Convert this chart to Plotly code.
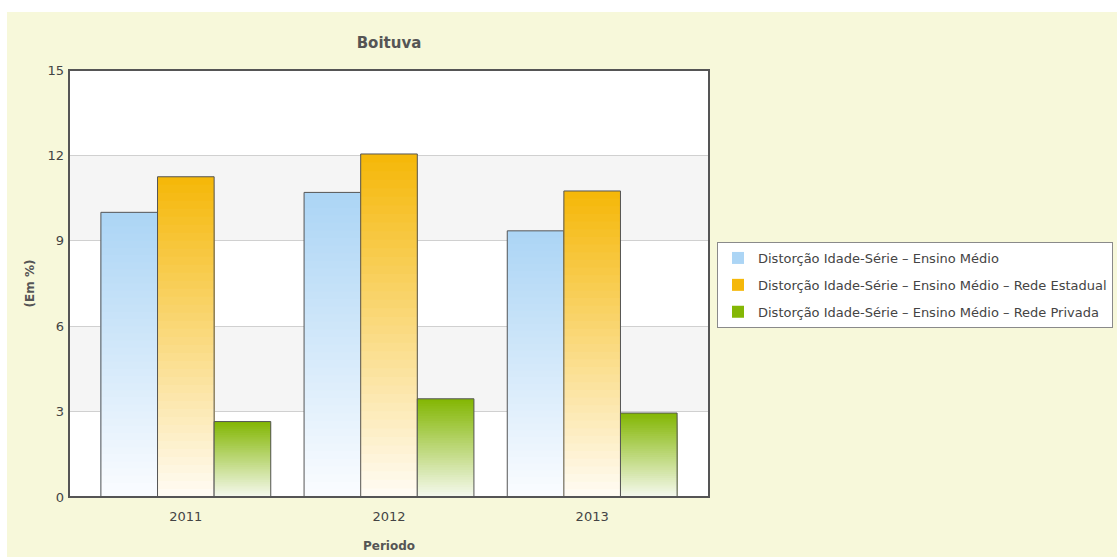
import plotly.graph_objects as go

periodos = ["2011", "2012", "2013"]
serie_nomes = [
    "Distorção Idade-Série – Ensino Médio",
    "Distorção Idade-Série – Ensino Médio – Rede Estadual",
    "Distorção Idade-Série – Ensino Médio – Rede Privada",
]
ensino_medio = [10.0, 10.7, 9.35]
rede_estadual = [11.25, 12.05, 10.75]
rede_privada = [2.65, 3.45, 2.95]
y_ticks = [0, 3, 6, 9, 12, 15]

# cor do topo / cor da base do degradê de cada série
cores = [
    ((172, 213, 245), (250, 252, 255)),
    ((245, 184, 10), (255, 251, 242)),
    ((132, 183, 5), (244, 248, 236)),
]

W, H = 1117, 557
L, R, T, B = 69, 408, 70, 60
PW, PH = W - L - R, H - T - B
N = 40


def mix(c1, c2, t):
    return "rgb(%d,%d,%d)" % tuple(round(a + (b - a) * t) for a, b in zip(c1, c2))


fig = go.Figure()
series = [ensino_medio, rede_estadual, rede_privada]
for k, vals in enumerate(series):
    topo, base = cores[k]
    # barras aninhadas: a mais alta primeiro, as menores por cima -> degradê sem emendas
    for j in range(N - 1, -1, -1):
        t = j / (N - 1)
        fig.add_trace(go.Bar(
            x=periodos,
            y=[v * (j + 1) / N for v in vals],
            offsetgroup=str(k),
            legendgroup=str(k),
            marker=dict(color=mix(base, topo, t), line=dict(width=0)),
            name=serie_nomes[k],
            showlegend=(j == N - 1),
            hoverinfo="skip",
        ))
    fig.add_trace(go.Bar(
        x=periodos,
        y=vals,
        offsetgroup=str(k),
        legendgroup=str(k),
        marker=dict(color="rgba(0,0,0,0)", line=dict(color="#555555", width=1)),
        showlegend=False,
        name=serie_nomes[k],
    ))

shapes = [
    # faixas brancas fora do painel amarelo
    dict(type="rect", xref="paper", yref="paper",
         x0=-L / PW, x1=(W - L) / PW, y0=(H - B - 12) / PH, y1=(H - B) / PH,
         fillcolor="white", line=dict(width=0), layer="below"),
    dict(type="rect", xref="paper", yref="paper",
         x0=-L / PW, x1=(7 - L) / PW, y0=-B / PH, y1=(H - B) / PH,
         fillcolor="white", line=dict(width=0), layer="below"),
]
for lo, hi in [(3, 6), (9, 12)]:
    shapes.append(dict(type="rect", xref="paper", yref="y", x0=0, x1=1, y0=lo, y1=hi,
                       fillcolor="#F5F5F5", line=dict(width=0), layer="below"))
shapes.append(dict(type="rect", xref="paper", yref="paper", x0=0, x1=1, y0=0, y1=1,
                   line=dict(color="#555555", width=2), layer="above"))

fig.update_layout(
    width=W, height=H,
    margin=dict(l=L, r=R, t=T, b=B, autoexpand=False),
    paper_bgcolor="#F7F8DA",
    plot_bgcolor="white",
    barmode="group",
    bargap=0.164,
    bargroupgap=0,
    font=dict(family="DejaVu Sans", size=13, color="#444444"),
    title=dict(text="<b>Boituva</b>", x=0.5, xref="paper", xanchor="center",
               y=1 - 43 / H, yanchor="middle",
               font=dict(family="DejaVu Sans", size=15, color="#555555")),
    xaxis=dict(
        range=[-0.575, 2.575],
        showgrid=False, zeroline=False,
        ticks="", ticklabelstandoff=10,
        tickfont=dict(size=13, color="#444444"),
        title=dict(text="<b>Periodo</b>", standoff=18,
                   font=dict(size=12, color="#555555")),
    ),
    yaxis=dict(
        range=[0, 15],
        tickvals=y_ticks,
        showgrid=True, gridcolor="#D0D0D0", gridwidth=1,
        zeroline=False, ticks="", ticklabelstandoff=4,
        tickfont=dict(size=13, color="#444444"),
        title=dict(text="<b>(Em %)</b>", standoff=10,
                   font=dict(size=12, color="#555555")),
    ),
    legend=dict(
        x=(717 - L) / PW, xanchor="left",
        y=(H - B - 242) / PH, yanchor="top",
        bgcolor="white", bordercolor="#8A8A8A", borderwidth=1,
        font=dict(family="DejaVu Sans", size=13, color="#444444"),
        traceorder="grouped", tracegroupgap=7,
    ),
    shapes=shapes,
)

fig.write_html("out.html", config={"displayModeBar": False},
               post_script="document.body.style.margin='0';")
